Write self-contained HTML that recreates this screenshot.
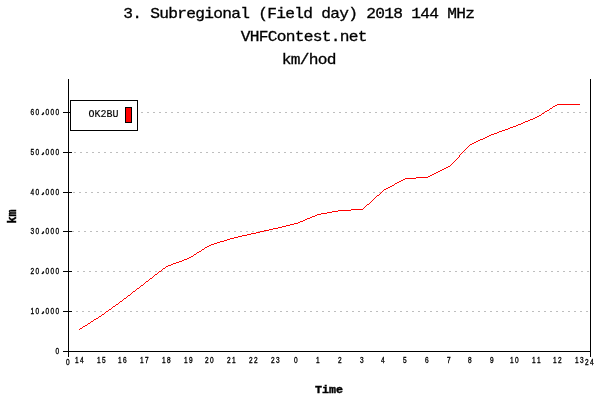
<!DOCTYPE html>
<html><head><meta charset="utf-8"><title>3. Subregional (Field day) 2018 144 MHz</title>
<style>html,body{margin:0;padding:0;background:#fff}svg{display:block;will-change:transform}text{font-family:"Liberation Mono","DejaVu Sans Mono",monospace;fill:#000;white-space:pre}.t5{font-size:15px;stroke:#000;stroke-width:0.3px;letter-spacing:-0.667px}.t3{font-size:11.67px;font-weight:bold;stroke:#000;stroke-width:0.4px}.t2{font-size:10px;stroke:#000;stroke-width:0.15px}.t1{font-family:"Liberation Sans","DejaVu Sans",sans-serif;font-size:8.6px;stroke:#000;stroke-width:0.35px}.cm{font-size:12.5px;stroke-width:0.6px}</style></head><body>
<svg width="600" height="400" viewBox="0 0 600 400">
<rect x="0" y="0" width="600" height="400" fill="#fff"/>
<text class="t5" transform="translate(123.2,18) scale(1.08,1)">3. Subregional (Field day) 2018 144 MHz</text>
<text class="t5" transform="translate(240.7,41) scale(1.08,1)">VHFContest.net</text>
<text class="t5" transform="translate(281.7,64) scale(1.08,1)">km/hod</text>
<g shape-rendering="crispEdges" stroke="#bebebe" stroke-width="1" stroke-dasharray="2 4" fill="none">
<line x1="76" y1="311.5" x2="590" y2="311.5"/>
<line x1="77" y1="271.5" x2="590" y2="271.5"/>
<line x1="72" y1="231.5" x2="590" y2="231.5"/>
<line x1="73" y1="192.5" x2="590" y2="192.5"/>
<line x1="74" y1="152.5" x2="590" y2="152.5"/>
<line x1="141" y1="112.5" x2="590" y2="112.5"/>
</g>
<g shape-rendering="crispEdges" fill="#000">
<rect x="68" y="79" width="1" height="278"/>
<rect x="590" y="79" width="1" height="278"/>
<rect x="63" y="351" width="528" height="1"/>
<rect x="63" y="311" width="9" height="1"/>
<rect x="63" y="271" width="9" height="1"/>
<rect x="63" y="231" width="9" height="1"/>
<rect x="63" y="192" width="9" height="1"/>
<rect x="63" y="152" width="9" height="1"/>
<rect x="63" y="112" width="9" height="1"/>
</g>
<g shape-rendering="crispEdges">
<rect x="70.5" y="100.5" width="67" height="30" fill="#fff" stroke="#000" stroke-width="1"/>
<rect x="125.5" y="107.5" width="6" height="15" fill="#f00" stroke="#000" stroke-width="1"/>
</g>
<text class="t2" transform="translate(88.5,116.7) scale(1,1.1)">OK2BU</text>
<text class="t1" transform="translate(0,354.0) scale(0.76,1)" x="73.03" y="0">0</text>
<text class="t1" transform="translate(0,314.0) scale(0.76,1)" x="40.13 46.71 55.26 59.87 66.45 73.03" y="0">10<tspan class="cm" rotate="45" dy="-2.4">,</tspan><tspan dy="2.4">000</tspan></text>
<text class="t1" transform="translate(0,274.0) scale(0.76,1)" x="40.13 46.71 55.26 59.87 66.45 73.03" y="0">20<tspan class="cm" rotate="45" dy="-2.4">,</tspan><tspan dy="2.4">000</tspan></text>
<text class="t1" transform="translate(0,234.0) scale(0.76,1)" x="40.13 46.71 55.26 59.87 66.45 73.03" y="0">30<tspan class="cm" rotate="45" dy="-2.4">,</tspan><tspan dy="2.4">000</tspan></text>
<text class="t1" transform="translate(0,195.0) scale(0.76,1)" x="40.13 46.71 55.26 59.87 66.45 73.03" y="0">40<tspan class="cm" rotate="45" dy="-2.4">,</tspan><tspan dy="2.4">000</tspan></text>
<text class="t1" transform="translate(0,155.0) scale(0.76,1)" x="40.13 46.71 55.26 59.87 66.45 73.03" y="0">50<tspan class="cm" rotate="45" dy="-2.4">,</tspan><tspan dy="2.4">000</tspan></text>
<text class="t1" transform="translate(0,115.0) scale(0.76,1)" x="40.13 46.71 55.26 59.87 66.45 73.03" y="0">60<tspan class="cm" rotate="45" dy="-2.4">,</tspan><tspan dy="2.4">000</tspan></text>
<text class="t1" transform="translate(0,363.0) scale(0.76,1)" x="98.55 105.13" y="0">14</text>
<text class="t1" transform="translate(0,363.0) scale(0.76,1)" x="127.50 134.08" y="0">15</text>
<text class="t1" transform="translate(0,363.0) scale(0.76,1)" x="155.13 161.71" y="0">16</text>
<text class="t1" transform="translate(0,363.0) scale(0.76,1)" x="184.08 190.66" y="0">17</text>
<text class="t1" transform="translate(0,363.0) scale(0.76,1)" x="213.03 219.61" y="0">18</text>
<text class="t1" transform="translate(0,363.0) scale(0.76,1)" x="241.97 248.55" y="0">19</text>
<text class="t1" transform="translate(0,363.0) scale(0.76,1)" x="269.61 276.18" y="0">20</text>
<text class="t1" transform="translate(0,363.0) scale(0.76,1)" x="298.55 305.13" y="0">21</text>
<text class="t1" transform="translate(0,363.0) scale(0.76,1)" x="327.50 334.08" y="0">22</text>
<text class="t1" transform="translate(0,363.0) scale(0.76,1)" x="356.45 363.03" y="0">23</text>
<text class="t1" transform="translate(0,363.0) scale(0.76,1)" x="386.71" y="0">0</text>
<text class="t1" transform="translate(0,363.0) scale(0.76,1)" x="415.66" y="0">1</text>
<text class="t1" transform="translate(0,363.0) scale(0.76,1)" x="444.61" y="0">2</text>
<text class="t1" transform="translate(0,363.0) scale(0.76,1)" x="473.55" y="0">3</text>
<text class="t1" transform="translate(0,363.0) scale(0.76,1)" x="501.18" y="0">4</text>
<text class="t1" transform="translate(0,363.0) scale(0.76,1)" x="530.13" y="0">5</text>
<text class="t1" transform="translate(0,363.0) scale(0.76,1)" x="559.08" y="0">6</text>
<text class="t1" transform="translate(0,363.0) scale(0.76,1)" x="588.03" y="0">7</text>
<text class="t1" transform="translate(0,363.0) scale(0.76,1)" x="615.66" y="0">8</text>
<text class="t1" transform="translate(0,363.0) scale(0.76,1)" x="644.61" y="0">9</text>
<text class="t1" transform="translate(0,363.0) scale(0.76,1)" x="670.92 677.50" y="0">10</text>
<text class="t1" transform="translate(0,363.0) scale(0.76,1)" x="699.87 706.45" y="0">11</text>
<text class="t1" transform="translate(0,363.0) scale(0.76,1)" x="727.50 734.08" y="0">12</text>
<text class="t1" transform="translate(0,363.0) scale(0.76,1)" x="756.45 763.03" y="0">13</text>
<text class="t1" transform="translate(0,365.0) scale(0.76,1)" x="86.84" y="0">0</text>
<text class="t1" transform="translate(0,365.0) scale(0.76,1)" x="769.87 776.45" y="0">24</text>
<text class="t3" text-anchor="middle" transform="translate(329,393) scale(1,1)">Time</text>
<text class="t3" text-anchor="middle" transform="translate(16,216.5) rotate(-90) scale(1,1.06)">km</text>
<path shape-rendering="crispEdges" fill="#f00" d="M557 104h23v1h-23zM555 105h2v1h-2zM553 106h2v1h-2zM552 107h1v1h-1zM550 108h2v1h-2zM549 109h1v1h-1zM547 110h2v1h-2zM545 111h2v1h-2zM544 112h1v1h-1zM542 113h2v1h-2zM541 114h1v1h-1zM539 115h2v1h-2zM537 116h2v1h-2zM535 117h2v1h-2zM533 118h2v1h-2zM530 119h3v1h-3zM528 120h2v1h-2zM525 121h3v1h-3zM523 122h2v1h-2zM521 123h2v1h-2zM518 124h3v1h-3zM516 125h2v1h-2zM513 126h3v1h-3zM510 127h3v1h-3zM508 128h2v1h-2zM505 129h3v1h-3zM502 130h3v1h-3zM499 131h3v1h-3zM497 132h2v1h-2zM494 133h3v1h-3zM491 134h3v1h-3zM489 135h2v1h-2zM487 136h2v1h-2zM485 137h2v1h-2zM483 138h2v1h-2zM480 139h3v1h-3zM478 140h2v1h-2zM476 141h2v1h-2zM474 142h2v1h-2zM472 143h2v1h-2zM470 144h2v1h-2zM469 145h1v1h-1zM468 146h1v1h-1zM467 147h1v1h-1zM466 148h1v1h-1zM465 149h1v1h-1zM464 150h1v1h-1zM463 151h1v1h-1zM462 152h1v1h-1zM461 153h1v1h-1zM460 154h1v1h-1zM459 155h1v1h-1zM459 156h1v1h-1zM458 157h1v1h-1zM457 158h1v1h-1zM456 159h1v1h-1zM455 160h1v1h-1zM454 161h1v1h-1zM453 162h1v1h-1zM452 163h1v1h-1zM451 164h1v1h-1zM450 165h1v1h-1zM448 166h2v1h-2zM446 167h2v1h-2zM444 168h2v1h-2zM442 169h2v1h-2zM440 170h2v1h-2zM438 171h2v1h-2zM436 172h2v1h-2zM434 173h2v1h-2zM432 174h2v1h-2zM430 175h2v1h-2zM428 176h2v1h-2zM416 177h12v1h-12zM405 178h11v1h-11zM403 179h2v1h-2zM401 180h2v1h-2zM399 181h2v1h-2zM397 182h2v1h-2zM395 183h2v1h-2zM394 184h1v1h-1zM392 185h2v1h-2zM390 186h2v1h-2zM388 187h2v1h-2zM386 188h2v1h-2zM384 189h2v1h-2zM383 190h1v1h-1zM382 191h1v1h-1zM381 192h1v1h-1zM380 193h1v1h-1zM379 194h1v1h-1zM377 195h2v1h-2zM376 196h1v1h-1zM375 197h1v1h-1zM374 198h1v1h-1zM373 199h1v1h-1zM372 200h1v1h-1zM371 201h1v1h-1zM370 202h1v1h-1zM369 203h1v1h-1zM367 204h2v1h-2zM366 205h1v1h-1zM365 206h1v1h-1zM364 207h1v1h-1zM363 208h1v1h-1zM351 209h12v1h-12zM338 210h13v1h-13zM332 211h6v1h-6zM327 212h5v1h-5zM321 213h6v1h-6zM317 214h4v1h-4zM315 215h2v1h-2zM312 216h3v1h-3zM310 217h2v1h-2zM307 218h3v1h-3zM305 219h2v1h-2zM303 220h2v1h-2zM300 221h3v1h-3zM298 222h2v1h-2zM294 223h4v1h-4zM290 224h4v1h-4zM286 225h4v1h-4zM282 226h4v1h-4zM278 227h4v1h-4zM273 228h5v1h-5zM269 229h4v1h-4zM264 230h5v1h-5zM260 231h4v1h-4zM256 232h4v1h-4zM251 233h5v1h-5zM247 234h4v1h-4zM242 235h5v1h-5zM238 236h4v1h-4zM234 237h4v1h-4zM230 238h4v1h-4zM227 239h3v1h-3zM224 240h3v1h-3zM220 241h4v1h-4zM217 242h3v1h-3zM214 243h3v1h-3zM211 244h3v1h-3zM209 245h2v1h-2zM207 246h2v1h-2zM205 247h2v1h-2zM204 248h1v1h-1zM202 249h2v1h-2zM201 250h1v1h-1zM199 251h2v1h-2zM197 252h2v1h-2zM196 253h1v1h-1zM194 254h2v1h-2zM193 255h1v1h-1zM191 256h2v1h-2zM189 257h2v1h-2zM187 258h2v1h-2zM184 259h3v1h-3zM182 260h2v1h-2zM179 261h3v1h-3zM176 262h3v1h-3zM173 263h3v1h-3zM171 264h2v1h-2zM168 265h3v1h-3zM166 266h2v1h-2zM165 267h1v1h-1zM163 268h2v1h-2zM162 269h1v1h-1zM161 270h1v1h-1zM159 271h2v1h-2zM158 272h1v1h-1zM157 273h1v1h-1zM155 274h2v1h-2zM154 275h1v1h-1zM153 276h1v1h-1zM152 277h1v1h-1zM150 278h2v1h-2zM149 279h1v1h-1zM148 280h1v1h-1zM146 281h2v1h-2zM145 282h1v1h-1zM144 283h1v1h-1zM143 284h1v1h-1zM141 285h2v1h-2zM140 286h1v1h-1zM139 287h1v1h-1zM137 288h2v1h-2zM136 289h1v1h-1zM135 290h1v1h-1zM133 291h2v1h-2zM132 292h1v1h-1zM131 293h1v1h-1zM130 294h1v1h-1zM128 295h2v1h-2zM127 296h1v1h-1zM126 297h1v1h-1zM124 298h2v1h-2zM123 299h1v1h-1zM122 300h1v1h-1zM120 301h2v1h-2zM119 302h1v1h-1zM118 303h1v1h-1zM116 304h2v1h-2zM115 305h1v1h-1zM113 306h2v1h-2zM112 307h1v1h-1zM111 308h1v1h-1zM109 309h2v1h-2zM108 310h1v1h-1zM106 311h2v1h-2zM105 312h1v1h-1zM104 313h1v1h-1zM102 314h2v1h-2zM101 315h1v1h-1zM99 316h2v1h-2zM98 317h1v1h-1zM96 318h2v1h-2zM94 319h2v1h-2zM93 320h1v1h-1zM91 321h2v1h-2zM90 322h1v1h-1zM88 323h2v1h-2zM87 324h1v1h-1zM85 325h2v1h-2zM83 326h2v1h-2zM82 327h1v1h-1zM80 328h2v1h-2zM79 329h1v1h-1z"/>
</svg></body></html>
